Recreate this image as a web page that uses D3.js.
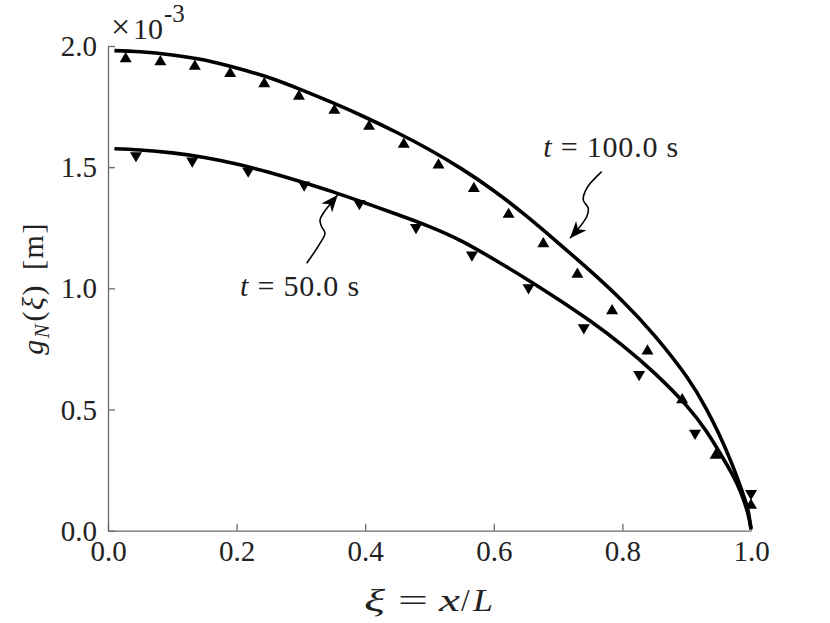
<!DOCTYPE html>
<html><head><meta charset="utf-8">
<script src="https://cdn.jsdelivr.net/npm/d3@7"></script>
<style>
html,body{margin:0;padding:0;background:#fff;}
svg{display:block;}
svg text{font-family:"Liberation Serif","Times New Roman","DejaVu Serif",serif;fill:#222;}
</style></head>
<body>
<svg id="c" width="830" height="623"></svg>
<script>
// ---- data (g in units of 1e-3 m) ----
const xTicks = [0, 0.2, 0.4, 0.6, 0.8, 1.0];
const yTicks = [0, 0.5, 1.0, 1.5, 2.0];

// continuous curves
const curveXi = [0.01,0.05,0.1,0.15,0.2,0.25,0.3,0.35,0.4,0.45,0.5,0.55,0.6,0.65,0.7,0.75,0.8,0.85,0.9,0.93,0.95,0.97,0.985,0.995,1.0];
const curve100 = [1.981,1.976,1.963,1.942,1.909,1.870,1.820,1.765,1.706,1.642,1.572,1.493,1.403,1.300,1.188,1.072,0.948,0.805,0.635,0.505,0.400,0.278,0.172,0.088,0.005];
const curve50  = [1.576,1.571,1.559,1.540,1.513,1.479,1.440,1.398,1.352,1.305,1.255,1.195,1.120,1.040,0.955,0.865,0.765,0.650,0.515,0.412,0.328,0.237,0.152,0.072,0.010];

// discrete markers
const mark100Xi = [0.0275,0.0814,0.135,0.190,0.243,0.297,0.352,0.406,0.460,0.514,0.569,0.623,0.677,0.730,0.784,0.839,0.893,0.945,1.0];
const mark100G  = [1.954,1.942,1.923,1.893,1.851,1.799,1.741,1.675,1.601,1.516,1.419,1.312,1.191,1.065,0.914,0.748,0.547,0.318,0.112];
const mark50Xi  = [0.0435,0.131,0.218,0.305,0.391,0.479,0.566,0.654,0.740,0.826,0.913,1.0];
const mark50G   = [1.541,1.519,1.477,1.420,1.343,1.244,1.131,0.996,0.831,0.638,0.395,0.147];

// annotation arrows (data coordinates), tail -> tip
const arrow50  = [[0.3090,1.1034],[0.3297,1.1859],[0.3375,1.2272],[0.3323,1.2544],[0.3297,1.2820],[0.3348,1.3097],[0.3572,1.3852]];
const arrow100 = [[0.7678,1.4813],[0.7445,1.4128],[0.7392,1.3646],[0.7470,1.3303],[0.7445,1.2956],[0.7185,1.2065]];
const label50Pos  = [0.2053, 0.970];
const label100Pos = [0.677, 1.541];

// ---- layout ----
const FONT = '"Liberation Serif","Times New Roman","DejaVu Serif",serif';
const svg = d3.select("#c");
const x = d3.scaleLinear().domain([0,1]).range([108,751]);
const y = d3.scaleLinear().domain([0,2]).range([530.7,46]);
const axisColor = "#6a6a6a";

// axes
const gx = svg.append("g").attr("transform",`translate(0,${y(0)})`)
  .call(d3.axisBottom(x).tickValues(xTicks).tickSizeInner(-7).tickSizeOuter(0).tickPadding(12).tickFormat(d3.format(".1f")));
const gy = svg.append("g").attr("transform",`translate(${x(0)},0)`)
  .call(d3.axisLeft(y).tickValues(yTicks).tickSizeInner(-7).tickSizeOuter(0).tickPadding(11).tickFormat(d3.format(".1f")));
[gx,gy].forEach(g=>{
  g.attr("font-family",FONT);
  g.select(".domain").attr("stroke",axisColor).attr("stroke-width",1.3);
  g.selectAll(".tick line").attr("stroke",axisColor).attr("stroke-width",1.3);
  g.selectAll(".tick text").style("font-family",FONT).attr("font-size",29).attr("fill","#222");
});
gx.selectAll(".tick text").attr("dy","0.62em");
gy.selectAll(".tick text").attr("dy","0.33em");

// curves
const line = d3.line().x(d=>x(d[0])).y(d=>y(d[1])).curve(d3.curveNatural);
[curve100, curve50].forEach(vals=>{
  svg.append("path").datum(curveXi.map((xi,i)=>[xi, vals[i]]))
    .attr("d", line).attr("fill","none").attr("stroke","#000").attr("stroke-width",3.6);
});

// markers (triangles centred on bounding box)
const triUp = {draw(ctx,size){const w=Math.sqrt(size*2.4), h=w*0.85; ctx.moveTo(0,-h/2); ctx.lineTo(w/2,h/2); ctx.lineTo(-w/2,h/2); ctx.closePath();}};
const triDown = {draw(ctx,size){const w=Math.sqrt(size*2.4), h=w*0.85; ctx.moveTo(0,h/2); ctx.lineTo(w/2,-h/2); ctx.lineTo(-w/2,-h/2); ctx.closePath();}};
svg.append("g").selectAll("path").data(mark100Xi.map((xi,i)=>[xi,mark100G[i]])).join("path")
  .attr("transform",d=>`translate(${x(d[0])},${y(d[1])})`)
  .attr("d", d3.symbol().type(triUp).size(60)).attr("fill","#000");
svg.append("g").selectAll("path").data(mark50Xi.map((xi,i)=>[xi,mark50G[i]])).join("path")
  .attr("transform",d=>`translate(${x(d[0])},${y(d[1])})`)
  .attr("d", d3.symbol().type(triDown).size(60)).attr("fill","#000");

// arrowheads
const defs = svg.append("defs");
defs.append("marker").attr("id","ah").attr("viewBox","-18 -8 20 16")
  .attr("refX",0).attr("refY",0).attr("markerWidth",20).attr("markerHeight",16)
  .attr("markerUnits","userSpaceOnUse").attr("orient","auto")
  .append("path").attr("d","M0,0 L-17,-7 L-12,0 L-17,7 Z").attr("fill","#000");
const aline = d3.line().x(d=>x(d[0])).y(d=>y(d[1])).curve(d3.curveCatmullRom.alpha(0.5));
[arrow50, arrow100].forEach(pts=>{
  svg.append("path").datum(pts).attr("d",aline).attr("fill","none")
    .attr("stroke","#000").attr("stroke-width",1.6).attr("marker-end","url(#ah)");
});

// annotation labels
function tlabel(pos, val){
  const t = svg.append("text").attr("x",x(pos[0])).attr("y",y(pos[1])).attr("font-size",30)
    .style("font-family",FONT).style("letter-spacing","0.8px").attr("fill","#111");
  t.append("tspan").attr("font-style","italic").text("t");
  t.append("tspan").text(" = " + val + " s");
}
tlabel(label100Pos, "100.0");
tlabel(label50Pos, "50.0");

// exponent (separate text pieces, explicit sizes)
const exG = svg.append("g").style("font-family",FONT).attr("fill","#222");
exG.append("text").attr("x",111).attr("y",38).attr("font-size",34).style("font-size","34px").text("×");
exG.append("text").attr("x",133).attr("y",39).attr("font-size",30).style("font-size","30px").text("10");
exG.append("text").attr("x",164).attr("y",22).attr("font-size",25).style("font-size","25px").text("-3");

// x label (pieces laid out to match TeX-like spacing)
const xlG = svg.append("g").style("font-family",FONT).attr("font-size",31).attr("fill","#222");
const xlBase = 611;
xlG.append("text").attr("x",364).attr("y",xlBase).attr("font-style","italic").attr("textLength",21).attr("lengthAdjust","spacingAndGlyphs").text("ξ");
xlG.append("text").attr("x",398).attr("y",xlBase).attr("textLength",30).attr("lengthAdjust","spacingAndGlyphs").text("=");
xlG.append("text").attr("x",439).attr("y",xlBase).attr("font-style","italic").attr("textLength",21).attr("lengthAdjust","spacingAndGlyphs").text("x");
xlG.append("text").attr("x",461).attr("y",xlBase).text("/");
xlG.append("text").attr("x",473).attr("y",xlBase).attr("font-style","italic").attr("textLength",20).attr("lengthAdjust","spacingAndGlyphs").text("L");

// y label
const yl = svg.append("text").attr("transform",`translate(43,${(y(0)+y(2))/2}) rotate(-90)`)
  .attr("text-anchor","middle").style("font-family",FONT).attr("font-size",30)
  .style("letter-spacing","1.6px").attr("fill","#222");
yl.append("tspan").attr("font-style","italic").text("g");
yl.append("tspan").attr("font-style","italic").attr("font-size",21).attr("dy",6).text("N");
yl.append("tspan").attr("dy",-6).attr("dx",1).text("(");
yl.append("tspan").attr("font-style","italic").text("ξ");
yl.append("tspan").text(")");
yl.append("tspan").attr("dx",14).text("[m]");
</script>
</body></html>
